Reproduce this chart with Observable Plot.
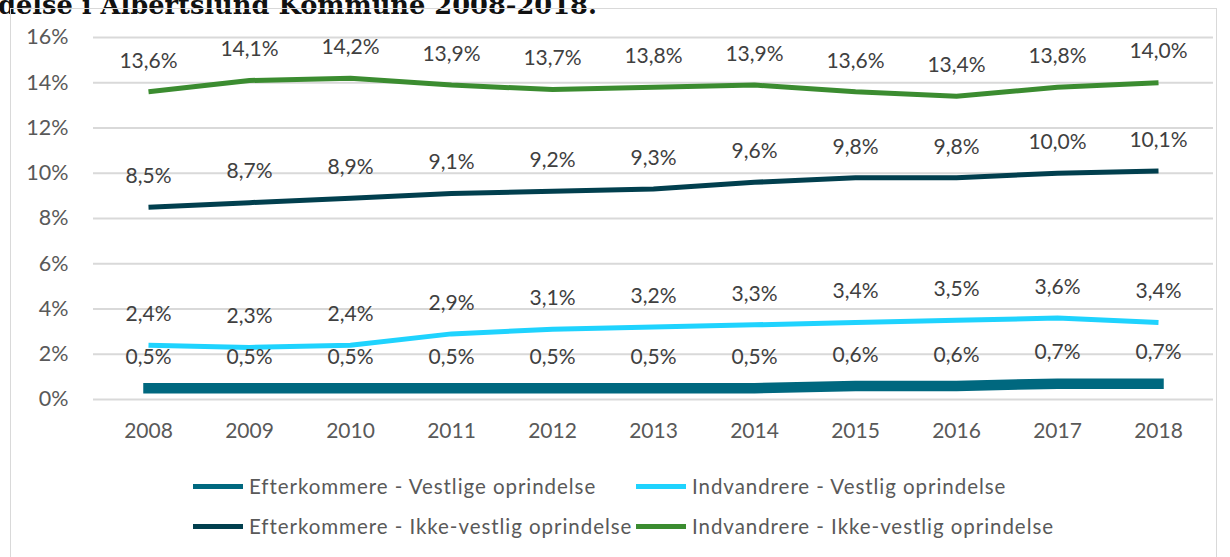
<!DOCTYPE html>
<html><head><meta charset="utf-8">
<script src="https://cdn.jsdelivr.net/npm/d3@7"></script>
<script src="https://cdn.jsdelivr.net/npm/@observablehq/plot@0.6"></script>
<style>
html,body{margin:0;padding:0;background:#fff;}
body{width:1230px;height:557px;overflow:hidden;position:relative;font-family:Lato,"Open Sans",sans-serif;}
#title{position:absolute;left:-2px;top:-10px;font-family:"DejaVu Serif",serif;font-weight:bold;font-size:25.7px;color:#111;white-space:nowrap;}
#box{position:absolute;left:10px;top:8px;width:1207px;height:600px;border:1px solid #d9d9d9;box-sizing:border-box;background:transparent;}
#chart{position:absolute;left:0;top:0;}
.leg{position:absolute;display:flex;align-items:center;font-size:20.5px;letter-spacing:0.95px;color:#595959;white-space:nowrap;}
.sw{display:inline-block;width:50px;height:5px;margin-right:6px;}
</style></head>
<body>
<div id="title">delse i Albertslund Kommune 2008-2018.</div>
<div id="box"></div>
<div id="chart"></div>
<div id="legend"></div>
<script>
const years = [2008,2009,2010,2011,2012,2013,2014,2015,2016,2017,2018];
const efterkommereVestlig = [0.5,0.5,0.5,0.5,0.5,0.5,0.5,0.6,0.6,0.7,0.7];
const indvandrereVestlig = [2.4,2.3,2.4,2.9,3.1,3.2,3.3,3.4,3.5,3.6,3.4];
const efterkommereIkkeVestlig = [8.5,8.7,8.9,9.1,9.2,9.3,9.6,9.8,9.8,10.0,10.1];
const indvandrereIkkeVestlig = [13.6,14.1,14.2,13.9,13.7,13.8,13.9,13.6,13.4,13.8,14.0];
const seriesNames = ["Efterkommere - Vestlige oprindelse","Indvandrere - Vestlig oprindelse","Efterkommere - Ikke-vestlig oprindelse","Indvandrere - Ikke-vestlig oprindelse"];
const seriesColors = ["#00687f","#1fd3fe","#013f4e","#3b8c30"];
const seriesWidths = [10.5,5,5,5];
const yTicks = [0,2,4,6,8,10,12,14,16];

const allValues = [efterkommereVestlig, indvandrereVestlig, efterkommereIkkeVestlig, indvandrereIkkeVestlig];
const data = [];
allValues.forEach((vals,i)=>vals.forEach((v,j)=>data.push({series:seriesNames[i], year:String(years[j]), value:v})));
const fmt = v => v.toFixed(1).replace(".", ",") + "%";

const lineMarks = seriesNames.map((name,i)=>Plot.line(data.filter(d=>d.series===name),{
  x:"year", y:"value", stroke:seriesColors[i], strokeWidth:seriesWidths[i],
  strokeLinecap: i===0 ? "square" : "butt", strokeLinejoin:"round"
}));

const plot = Plot.plot({
  width:1230, height:460,
  marginLeft:93, marginRight:17, marginTop:37, marginBottom:61,
  style:{fontFamily:"Lato, 'Open Sans', sans-serif", background:"transparent"},
  x:{type:"point", domain:years.map(String), padding:0.5},
  y:{domain:[0,16], ticks:yTicks},
  marks:[
    Plot.gridY(yTicks,{stroke:"#d9d9d9", strokeOpacity:1, strokeWidth:2}),
    Plot.axisY({ticks:yTicks, tickSize:0, tickPadding:25, tickFormat:d=>d+"%", fontSize:21.5, fill:"#595959", label:null}),
    Plot.axisX({tickSize:0, tickPadding:24, fontSize:21, fill:"#595959", label:null}),
    ...lineMarks,
    Plot.text(data,{x:"year", y:"value", text:d=>fmt(d.value), dy:-31, lineAnchor:"middle", fontSize:21, fill:"#404040"})
  ]
});
document.getElementById("chart").appendChild(plot);

const legendPos = [[193,488],[636,488],[193,528],[636,528]];
const leg = document.getElementById("legend");
seriesNames.forEach((name,i)=>{
  const d = document.createElement("div");
  d.className="leg";
  d.style.left = legendPos[i][0]+"px";
  d.style.top = (legendPos[i][1]-14)+"px";
  d.innerHTML = `<span class="sw" style="background:${seriesColors[i]}"></span><span>${name}</span>`;
  leg.appendChild(d);
});
</script>
</body></html>
